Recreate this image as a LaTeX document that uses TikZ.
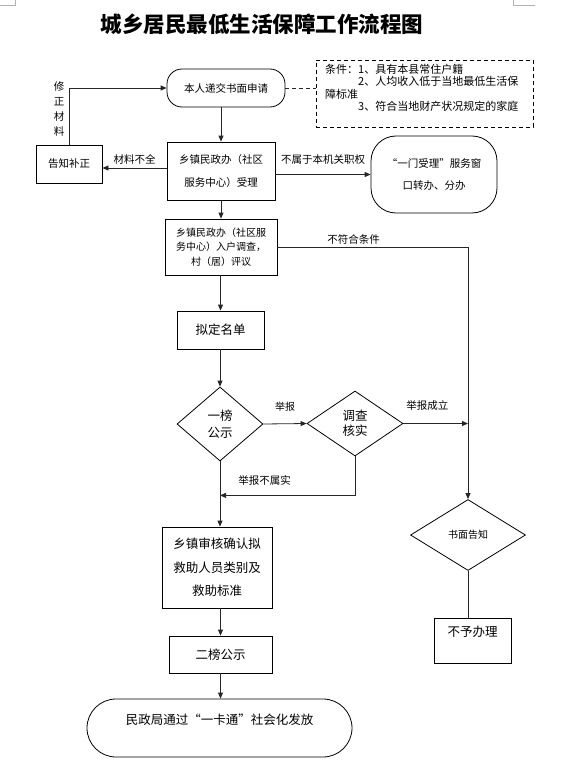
\documentclass[tikz,border=0pt]{standalone}
\usepackage{fontspec}
\setmainfont{Noto Sans CJK SC}
\usetikzlibrary{shapes.geometric,arrows.meta,calc}
\newcommand\myfs[2]{\fontsize{#1}{#2}\selectfont}
\begin{document}
\begin{tikzpicture}[x=1pt,y=-1pt,
  line/.style={draw=black!85, line width=0.8pt},
  arr/.style={line, -{Triangle[length=6pt,width=5pt]}},
  box/.style={draw=black, line width=0.8pt, rectangle, inner sep=0pt, align=center},
  dia/.style={draw=black, line width=0.8pt, diamond, inner sep=0pt, align=center},
  lab/.style={font=\myfs{10.5}{12}, text=black},
  cornermark/.style={draw=black!30, line width=0.6pt}
]
\useasboundingbox (0,0) rectangle (572,773);
% page corner marks
\draw[cornermark] (0,5) -- (15,5) -- (15,0);
\draw[cornermark] (535,5) -- (513,5) -- (513,0);

\node[font=\myfs{21.5}{26}\bfseries] (title) at (262,24) {城乡居民最低生活保障工作流程图};

\node[box, rounded corners=15pt, minimum width=118pt, minimum height=38pt, font=\myfs{10.5}{12}] (n1) at (226,88) {本人递交书面申请};
\node[box, minimum width=108pt, minimum height=58pt, font=\myfs{10.5}{23}] (n2) at (221,171) {乡镇民政办（社区\\服务中心）受理};
\node[box, minimum width=66pt, minimum height=38pt, font=\myfs{10.5}{12}] (fix) at (69,164) {告知补正};
\node[box, rounded corners=25pt, minimum width=126pt, minimum height=77pt, font=\myfs{10.5}{22}] (door) at (434,174.5) {“一门受理”服务窗\\口转办、分办};
\node[draw=black, dash pattern=on 4pt off 3pt, line width=0.8pt, minimum width=217pt, minimum height=67pt, inner sep=0pt] (cond) at (424.5,93.5) {};
\node[anchor=north west, align=left, font=\myfs{11}{12.5}, inner sep=0pt] (condtext) at (325,64) {条件：1、具有本县常住户籍\\\hspace*{33pt}2、人均收入低于当地最低生活保\\障标准\\\hspace*{33pt}3、符合当地财产状况规定的家庭};

\node[box, minimum width=112pt, minimum height=56pt, font=\myfs{10}{14.5}] (n3) at (221,247) {乡镇民政办（社区服\\务中心）入户调查，\\村（居）评议};
\node[box, minimum width=87pt, minimum height=38pt, font=\myfs{12.5}{14}] (list) at (220.5,330) {拟定名单};
\node[dia, minimum width=86pt, minimum height=74pt, font=\myfs{12.5}{17}] (d1) at (220,424) {一榜\\公示};
\node[dia, minimum width=96pt, minimum height=65pt, font=\myfs{12.5}{15}] (d2) at (355,423.5) {调查\\核实};
\node[box, minimum width=110pt, minimum height=81pt, font=\myfs{12.5}{23.5}] (n5) at (217,567.5) {乡镇审核确认拟\\救助人员类别及\\救助标准};
\node[box, minimum width=103pt, minimum height=37pt, font=\myfs{12.5}{14}] (n6) at (220.5,654.5) {二榜公示};
\node[box, rounded corners=29pt, minimum width=265pt, minimum height=58pt,
      label={[font=\myfs{12.5}{14}, yshift=8pt]center:民政局通过“一卡通”社会化发放}] (final) at (219.5,728) {};
\node[dia, minimum width=115pt, minimum height=71pt, font=\myfs{10}{12}] (d3) at (468,535) {书面告知};
\node[box, minimum width=77pt, minimum height=45pt,
      label={[font=\myfs{12.5}{14}, yshift=8.5pt]center:不予办理}] (no) at (472.5,640.5) {};

\coordinate (j) at ($(d1.south)+(0,34)$);

% connectors
\draw[arr] (n1.south -| n2.north) -- (n2.north);
\draw[arr] ([yshift=3pt]n2.west) -- ([yshift=3pt]n2.west -| fix.east) node[midway, above, lab] {材料不全};
\draw[arr] (fix.north) |- (n1.west) node[pos=0.315, left=1pt, lab, align=center, font=\myfs{10.5}{15}] {修\\正\\材\\料};
\draw[arr] (n2.east |- door.west) -- (door.west) node[midway, above=6pt, lab] {不属于本机关职权};
\draw[line, dash pattern=on 4pt off 3pt] (n1.east) -- (n1.east -| cond.west);
\draw[arr] (n2.south) -- (n3.north);
\draw[arr] (n3.east) -| (d3.north) node[pos=0.2, above=-1pt, lab] {不符合条件};
\draw[arr] (n3.south -| list.north) -- (list.north);
\draw[arr] (list.south -| d1.north) -- (d1.north);
\draw[arr] (d1.east) -- (d2.west) node[midway, above=9pt, lab, font=\myfs{10}{12}] {举报};
\draw[arr] (d2.east) -- (d2.east -| d3.north) node[pos=0.37, above=9pt, lab] {举报成立};
\draw[arr] (d2.south) |- (j) node[pos=0.835, above=6pt, lab] {举报不属实};
\draw[arr] (d1.south) -- (d1.south |- n5.north);
\draw[arr] (n5.south -| n6.north) -- (n6.north);
\draw[arr] (n6.south) -- (n6.south |- final.north);
\draw[line] (d3.south) -- (d3.south |- no.north);
\end{tikzpicture}
\end{document}
